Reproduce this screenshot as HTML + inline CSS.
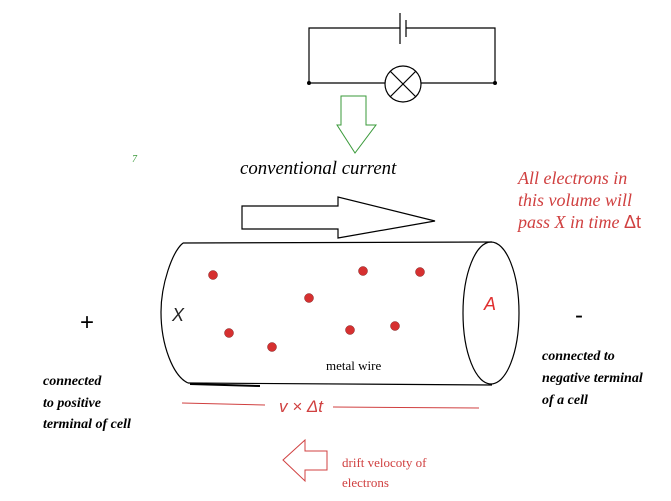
<!DOCTYPE html>
<html><head><meta charset="utf-8"><style>
html,body{margin:0;padding:0;background:#fff;}
svg{display:block;}
</style></head><body>
<svg width="671" height="501" xmlns="http://www.w3.org/2000/svg">
<rect width="671" height="501" fill="#fff"/>
<g stroke="#000" stroke-width="1.2" fill="none">
<polyline points="400,28 309,28 309,83 385,83"/>
<polyline points="406,28 495,28 495,83 421,83"/>
<line x1="400" y1="13" x2="400" y2="44"/>
<line x1="406" y1="20" x2="406" y2="37"/>
<circle cx="403" cy="84" r="18"/>
<line x1="390" y1="71" x2="416" y2="97"/>
<line x1="416" y1="71" x2="390" y2="97"/>
</g>
<circle cx="309" cy="83" r="2" fill="#000"/>
<circle cx="495" cy="83" r="2" fill="#000"/>
<polygon points="341,96 366,96 366,125 376,125 355,153 337,125 341,125" fill="none" stroke="#3a9a3a" stroke-width="1"/>
<text x="132" y="162" font-family="Liberation Serif, serif" font-style="italic" font-size="10" fill="#3a9a3a">7</text>
<text x="240" y="174" font-family="Liberation Serif, serif" font-style="italic" font-size="18.8" fill="#000">conventional current</text>
<g font-family="Liberation Serif, serif" font-style="italic" font-size="18" fill="#d04040">
<text x="518" y="184">All electrons in</text>
<text x="518" y="206">this volume will</text>
<text x="518" y="228">pass X in time <tspan font-style="normal" font-family="Liberation Sans, sans-serif">Δt</tspan></text>
</g>
<polygon points="242,206 338,206 338,197 435,221 338,238 338,229 242,229" fill="none" stroke="#000" stroke-width="1.2"/>
<g stroke="#000" stroke-width="1.2" fill="none">
<path d="M183,243 C172,252 161,285 161,312 C161,345 173,376 188,383"/>
<line x1="183" y1="243" x2="492" y2="242"/>
<line x1="188" y1="383" x2="492" y2="385"/>
<ellipse cx="491" cy="313" rx="28" ry="71"/>
<line x1="190" y1="384" x2="260" y2="386" stroke-width="2"/>
</g>
<g fill="#d63030" stroke="#802020" stroke-width="0.5">
<circle cx="213" cy="275" r="4.5"/><circle cx="363" cy="271" r="4.5"/><circle cx="420" cy="272" r="4.5"/>
<circle cx="309" cy="298" r="4.5"/><circle cx="229" cy="333" r="4.5"/><circle cx="272" cy="347" r="4.5"/>
<circle cx="350" cy="330" r="4.5"/><circle cx="395" cy="326" r="4.5"/>
</g>
<text x="172" y="321" font-family="Liberation Sans, sans-serif" font-style="italic" font-size="18" fill="#222">X</text>
<text x="484" y="310" font-family="Liberation Sans, sans-serif" font-style="italic" font-size="18" fill="#e03030">A</text>
<text x="80" y="330" font-family="Liberation Sans, sans-serif" font-size="24" fill="#000">+</text>
<text x="575" y="323" font-family="Liberation Sans, sans-serif" font-size="24" fill="#000">-</text>
<text x="326" y="370" font-family="Liberation Serif, serif" font-size="13" fill="#000">metal wire</text>
<g font-family="Liberation Serif, serif" font-style="italic" font-weight="bold" font-size="14" fill="#000">
<text x="43" y="385">connected</text>
<text x="43" y="407">to positive</text>
<text x="43" y="428">terminal of cell</text>
<text x="542" y="360">connected to</text>
<text x="542" y="382">negative terminal</text>
<text x="542" y="404">of a cell</text>
</g>
<g stroke="#d04040" stroke-width="1">
<line x1="182" y1="403" x2="265" y2="405"/>
<line x1="333" y1="407" x2="479" y2="408"/>
</g>
<text x="279" y="412" font-family="Liberation Sans, sans-serif" font-style="italic" font-size="17" fill="#d04040">v × Δt</text>
<polygon points="283,460 305,440 305,451 327,451 327,470 305,470 305,481" fill="none" stroke="#d04040" stroke-width="1"/>
<g font-family="Liberation Serif, serif" font-size="13" fill="#d04040">
<text x="342" y="467">drift velocoty of</text>
<text x="342" y="487">electrons</text>
</g>
</svg>
</body></html>
